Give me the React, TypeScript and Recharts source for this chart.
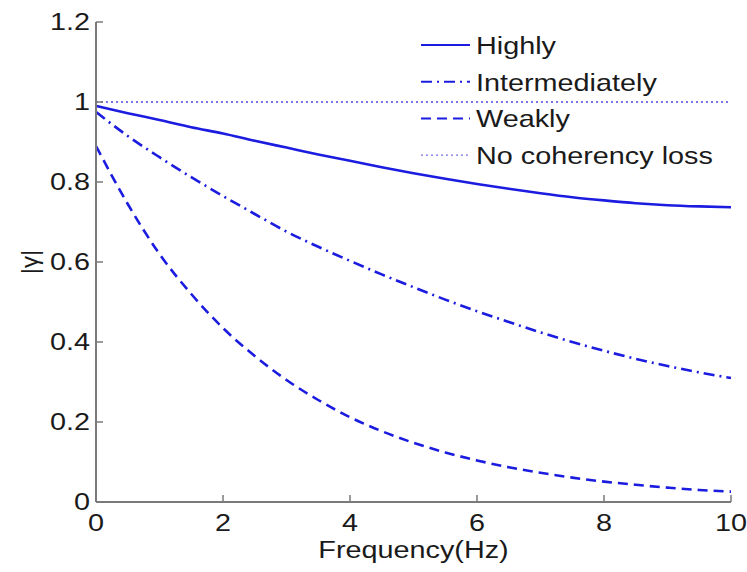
import React from "react";
import { LineChart, Line, XAxis, YAxis, Legend } from "recharts";

const frequency = [0, 0.5, 1, 1.5, 2, 2.5, 3, 3.5, 4, 4.5, 5, 5.5, 6, 6.5, 7, 7.5, 8, 8.5, 9, 9.5, 10];
const highly = [0.99, 0.972, 0.955, 0.937, 0.921, 0.903, 0.886, 0.869, 0.853, 0.837, 0.822, 0.808, 0.795, 0.783, 0.772, 0.762, 0.754, 0.747, 0.742, 0.739, 0.737];
const intermediately = [0.975, 0.915, 0.862, 0.812, 0.765, 0.72, 0.676, 0.638, 0.603, 0.569, 0.537, 0.506, 0.477, 0.45, 0.424, 0.4, 0.378, 0.358, 0.34, 0.324, 0.31];
const weakly = [0.89, 0.745, 0.62, 0.52, 0.435, 0.365, 0.305, 0.255, 0.212, 0.177, 0.148, 0.124, 0.104, 0.087, 0.073, 0.061, 0.051, 0.043, 0.036, 0.03, 0.026];
const noLoss = frequency.map(() => 1);

const xTicks = [0, 2, 4, 6, 8, 10];
const yTicks = [0, 0.2, 0.4, 0.6, 0.8, 1, 1.2];

const BLUE = "#1c1ce0";
const AXIS = "#7a7a7a";
const FONT = "'Liberation Sans', Arial, sans-serif";
const TICK = 7;

const series = [
  { key: "highly", name: "Highly", dash: undefined, width: 2.6, color: BLUE },
  { key: "intermediately", name: "Intermediately", dash: "11 5 2 5", width: 2.6, color: BLUE },
  { key: "weakly", name: "Weakly", dash: "10 6", width: 2.6, color: BLUE },
  { key: "noLoss", name: "No coherency loss", dash: "2 3", width: 1.6, color: "#4a4ae6" },
];

const data = frequency.map((f, i) => ({
  f,
  highly: highly[i],
  intermediately: intermediately[i],
  weakly: weakly[i],
  noLoss: noLoss[i],
}));

// matlab export looks stretched sideways, so text is scaled in x
function Txt({ x, y, anchor, children }: any) {
  return (
    <g transform={`translate(${x},${y}) scale(1.2,1)`}>
      <text x={0} y={0} textAnchor={anchor} fontSize={24} fontFamily={FONT} fill="#1a1a1a">
        {children}
      </text>
    </g>
  );
}

function LeftTick(props: any) {
  const { x, y, payload } = props;
  return (
    <g>
      <Txt x={x} y={y + 8} anchor="end">{String(payload.value)}</Txt>
      <line x1={x + 6} x2={x + 6 + TICK} y1={y} y2={y} stroke={AXIS} strokeWidth={1.5} />
    </g>
  );
}

function RightTick(props: any) {
  const { x, y } = props;
  return <line x1={x - TICK} x2={x} y1={y} y2={y} stroke={AXIS} strokeWidth={1.5} />;
}

function BottomTick(props: any) {
  const { x, y, payload } = props;
  return (
    <g>
      <Txt x={x} y={y + 29} anchor="middle">{String(payload.value)}</Txt>
      <line x1={x} x2={x} y1={y} y2={y - TICK} stroke={AXIS} strokeWidth={1.5} />
    </g>
  );
}

function TopTick(props: any) {
  const { x, y } = props;
  return <line x1={x} x2={x} y1={y} y2={y + TICK} stroke={AXIS} strokeWidth={1.5} />;
}

function LegendBox() {
  return (
    <svg width={330} height={150}>
      {series.map((s, i) => {
        const cy = 20 + i * 36.7;
        return (
          <g key={s.key}>
            <line x1={11} x2={60} y1={cy} y2={cy} stroke={s.color} strokeWidth={s.width - 0.6} strokeDasharray={s.dash} />
            <Txt x={66} y={cy + 9} anchor="start">{s.name}</Txt>
          </g>
        );
      })}
    </svg>
  );
}

export default function App() {
  return (
    <div style={{ position: "absolute", left: 0, top: 0, width: 747, height: 572, background: "#fff" }}>
      <LineChart width={747} height={572} data={data} margin={{ top: 22, right: 16, bottom: 0, left: 36 }}>
        <XAxis
          dataKey="f"
          type="number"
          domain={[0, 10]}
          ticks={xTicks}
          tickSize={0}
          tickMargin={0}
          tickLine={false}
          height={70}
          axisLine={{ stroke: AXIS, strokeWidth: 2 }}
          tick={<BottomTick />}
          label={(p: any) => {
            const vb = p.viewBox;
            return <Txt x={vb.x + vb.width / 2} y={558} anchor="middle">Frequency(Hz)</Txt>;
          }}
        />
        <XAxis
          xAxisId="top"
          orientation="top"
          dataKey="f"
          type="number"
          domain={[0, 10]}
          ticks={xTicks}
          tickSize={0}
          tickMargin={0}
          tickLine={false}
          height={0}
          axisLine={{ stroke: AXIS, strokeWidth: 2 }}
          tick={<TopTick />}
        />
        <YAxis
          type="number"
          domain={[0, 1.2]}
          ticks={yTicks}
          tickSize={0}
          tickMargin={6}
          tickLine={false}
          width={60}
          axisLine={{ stroke: AXIS, strokeWidth: 2 }}
          tick={<LeftTick />}
          label={(p: any) => {
            const vb = p.viewBox;
            const cy = vb.y + vb.height / 2;
            return (
              <text x={30} y={cy} transform={`rotate(-90, 30, ${cy})`} dy={8} textAnchor="middle" fontSize={24} fontFamily={FONT} fill="#1a1a1a">
                |γ|
              </text>
            );
          }}
        />
        <YAxis
          yAxisId="right"
          orientation="right"
          type="number"
          domain={[0, 1.2]}
          ticks={yTicks}
          tickSize={0}
          tickMargin={0}
          tickLine={false}
          width={0}
          axisLine={{ stroke: AXIS, strokeWidth: 2 }}
          tick={<RightTick />}
        />
        <Legend
          verticalAlign="middle"
          content={<LegendBox />}
          wrapperStyle={{ position: "absolute", left: 410, top: 25, width: 330, height: 150 }}
        />
        {series.map((s) => (
          <Line
            key={s.key}
            dataKey={s.key}
            name={s.name}
            type="monotone"
            stroke={s.color}
            strokeWidth={s.width}
            strokeDasharray={s.dash}
            dot={false}
            activeDot={false}
            isAnimationActive={false}
          />
        ))}
      </LineChart>
    </div>
  );
}
